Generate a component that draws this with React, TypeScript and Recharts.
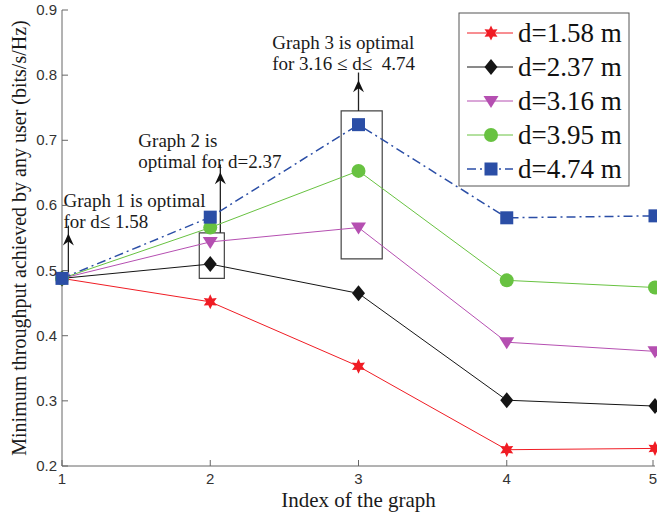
import React from 'react';
import { LineChart, Line, XAxis, YAxis, ReferenceArea, ReferenceLine, ReferenceDot } from 'recharts';

// graph index on the x axis
const graphIndex = [1, 2, 3, 4, 5];

// minimum throughput per distance (bits/s/Hz)
const d158 = [0.488, 0.452, 0.353, 0.225, 0.227];
const d237 = [0.488, 0.51, 0.465, 0.301, 0.292];
const d316 = [0.488, 0.544, 0.566, 0.39, 0.376];
const d395 = [0.488, 0.566, 0.653, 0.485, 0.474];
const d474 = [0.488, 0.582, 0.724, 0.581, 0.584];

const seriesNames = ['d=1.58 m', 'd=2.37 m', 'd=3.16 m', 'd=3.95 m', 'd=4.74 m'];
const seriesColors = ['#f01c24', '#151515', '#b54fb1', '#68c241', '#2b4ea6'];
const seriesMarkers = ['star', 'diamond', 'triangle', 'circle', 'square'];

const yTicks = [0.2, 0.3, 0.4, 0.5, 0.6, 0.7, 0.8, 0.9];

const data = graphIndex.map((g, i) => ({
  g,
  s0: d158[i],
  s1: d237[i],
  s2: d316[i],
  s3: d395[i],
  s4: d474[i],
}));

// annotation boxes, arrows and notes (chart coordinates)
const boxes = [
  { x1: 1.926, x2: 2.095, y1: 0.488, y2: 0.558 },
  { x1: 2.883, x2: 3.16, y1: 0.518, y2: 0.745 },
];
const arrows = [
  { x: 1.043, from: 0.497, to: 0.557 },
  { x: 2.068, from: 0.558, to: 0.651 },
  { x: 3.0, from: 0.745, to: 0.792 },
];
const notes = [
  { x: 1.01, y: 0.597, lines: ['Graph 1 is optimal', 'for d\u2264 1.58'] },
  { x: 1.515, y: 0.689, lines: ['Graph 2 is', 'optimal for d=2.37'] },
  { x: 2.418, y: 0.84, lines: ['Graph 3 is optimal', 'for 3.16 \u2264 d\u2264  4.74'] },
];

const AXIS = '#666';
const SERIF = '"Liberation Serif", "Times New Roman", serif';
const SANS = '"Liberation Sans", Arial, sans-serif';

function Marker({ kind, cx, cy, color }: { kind: string; cx: number; cy: number; color: string }) {
  if (kind === 'star') {
    const pts: string[] = [];
    for (let k = 0; k < 12; k++) {
      const a = ((-90 + k * 30) * Math.PI) / 180;
      const r = k % 2 === 0 ? 7.5 : 3.9;
      pts.push(`${cx + r * Math.cos(a)},${cy + r * Math.sin(a)}`);
    }
    return <polygon points={pts.join(' ')} fill={color} />;
  }
  if (kind === 'diamond') {
    return <polygon points={`${cx},${cy - 8} ${cx + 6.5},${cy} ${cx},${cy + 8} ${cx - 6.5},${cy}`} fill={color} />;
  }
  if (kind === 'triangle') {
    return <polygon points={`${cx - 7.5},${cy - 5} ${cx + 7.5},${cy - 5} ${cx},${cy + 7}`} fill={color} />;
  }
  if (kind === 'circle') {
    return <circle cx={cx} cy={cy} r={7} fill={color} />;
  }
  return <rect x={cx - 6.5} y={cy - 6.5} width={13} height={13} fill={color} />;
}

const makeDot = (kind: string, color: string) => (props: any) => (
  <g key={`${kind}-${props.index}`}>
    <Marker kind={kind} cx={props.cx} cy={props.cy} color={color} />
  </g>
);

const LeftTick = ({ x, y, payload }: any) => (
  <g>
    <line x1={x + 4} x2={x + 10} y1={y} y2={y} stroke={AXIS} />
    <text x={x - 1} y={y + 5} textAnchor="end" fontSize={15} fontFamily={SANS} fill="#333">
      {payload.value}
    </text>
  </g>
);

const BottomTick = ({ x, y, payload }: any) => (
  <g>
    <line x1={x} x2={x} y1={y} y2={y - 6} stroke={AXIS} />
    <text x={x} y={y + 18} textAnchor="middle" fontSize={15} fontFamily={SANS} fill="#333">
      {payload.value}
    </text>
  </g>
);

const RightTick = ({ x, y }: any) => <line x1={x - 6} x2={x} y1={y} y2={y} stroke={AXIS} />;
const TopTick = ({ x, y }: any) => <line x1={x} x2={x} y1={y} y2={y + 6} stroke={AXIS} />;

const arrowHead = (props: any) => {
  const { cx, cy } = props;
  return (
    <polygon
      points={`${cx},${cy} ${cx + 5.5},${cy + 12} ${cx},${cy + 8} ${cx - 5.5},${cy + 12}`}
      fill="#111"
    />
  );
};

const noteShape = (lines: string[]) => (props: any) => (
  <text x={props.cx} y={props.cy} fontSize={19} fontFamily={SERIF} fill="#1a1a1a">
    {lines.map((t, i) => (
      <tspan key={i} x={props.cx} dy={i === 0 ? 0 : 21} style={{ whiteSpace: 'pre' }}>
        {t}
      </tspan>
    ))}
  </text>
);

function LegendBox() {
  return (
    <svg
      width={172}
      height={175}
      style={{ position: 'absolute', left: 458, top: 12, pointerEvents: 'none' }}
    >
      <rect x={1} y={1} width={170} height={173} fill="#fff" stroke="#555" />
      {seriesNames.map((name, i) => {
        const cy = 21 + i * 34;
        return (
          <g key={name}>
            <line
              x1={9}
              x2={55}
              y1={cy}
              y2={cy}
              stroke={seriesColors[i]}
              strokeWidth={i === 4 ? 1.5 : 1}
              strokeDasharray={i === 4 ? '9 4 2 4' : undefined}
            />
            <Marker kind={seriesMarkers[i]} cx={33} cy={cy} color={seriesColors[i]} />
            <text x={60} y={cy + 9} fontSize={27} fontFamily={SERIF} fill="#111">
              {name}
            </text>
          </g>
        );
      })}
    </svg>
  );
}

export default function App() {
  const keys = ['s0', 's1', 's2', 's3', 's4'];
  return (
    <div style={{ position: 'absolute', left: 0, top: 0, width: 657, height: 512, background: '#fff' }}>
      <LineChart width={657} height={512} data={data} margin={{ top: 10, right: 2, bottom: 0, left: 0 }}>
        <XAxis
          dataKey="g"
          type="number"
          domain={[1, 5]}
          ticks={graphIndex}
          stroke={AXIS}
          tickLine={false}
          tickSize={0}
          tickMargin={0}
          tick={<BottomTick />}
          height={46}
          label={{
            content: ({ viewBox }: any) => (
              <text
                x={viewBox.x + viewBox.width / 2}
                y={viewBox.y + 41}
                textAnchor="middle"
                fontSize={21}
                fontFamily={SERIF}
                fill="#1a1a1a"
              >
                Index of the graph
              </text>
            ),
          }}
        />
        <XAxis
          xAxisId="t"
          dataKey="g"
          type="number"
          orientation="top"
          domain={[1, 5]}
          ticks={graphIndex}
          stroke={AXIS}
          tickLine={false}
          tickSize={0}
          tickMargin={0}
          tick={<TopTick />}
          height={0}
        />
        <YAxis
          type="number"
          domain={[0.2, 0.9]}
          ticks={yTicks}
          stroke={AXIS}
          tickLine={false}
          tickSize={0}
          tickMargin={4}
          tick={<LeftTick />}
          width={62}
          label={{
            content: ({ viewBox }: any) => {
              const cy = viewBox.y + viewBox.height / 2;
              return (
                <text
                  x={21}
                  y={cy}
                  transform={`rotate(-90, 21, ${cy})`}
                  textAnchor="middle"
                  dominantBaseline="middle"
                  fontSize={20}
                  fontFamily={SERIF}
                  fill="#1a1a1a"
                >
                  Minimum throughput achieved by any user (bits/s/Hz)
                </text>
              );
            },
          }}
        />
        <YAxis
          yAxisId="r"
          orientation="right"
          type="number"
          domain={[0.2, 0.9]}
          ticks={yTicks}
          stroke={AXIS}
          tickLine={false}
          tickSize={0}
          tickMargin={0}
          tick={<RightTick />}
          width={0}
        />
        {boxes.map((b, i) => (
          <ReferenceArea
            key={`box${i}`}
            x1={b.x1}
            x2={b.x2}
            y1={b.y1}
            y2={b.y2}
            fill="none"
            fillOpacity={0}
            stroke="#444"
            strokeWidth={1.2}
            ifOverflow="visible"
          />
        ))}
        {arrows.map((a, i) => (
          <ReferenceLine
            key={`shaft${i}`}
            segment={[
              { x: a.x, y: a.from },
              { x: a.x, y: a.to + 0.012 },
            ]}
            stroke="#222"
            strokeWidth={1.3}
            ifOverflow="visible"
          />
        ))}
        {arrows.map((a, i) => (
          <ReferenceDot key={`head${i}`} x={a.x} y={a.to} shape={arrowHead} ifOverflow="visible" />
        ))}
        {notes.map((n, i) => (
          <ReferenceDot key={`note${i}`} x={n.x} y={n.y} shape={noteShape(n.lines)} ifOverflow="visible" />
        ))}
        {keys.map((k, i) => (
          <Line
            key={k}
            dataKey={k}
            name={seriesNames[i]}
            stroke={seriesColors[i]}
            strokeWidth={i === 4 ? 1.5 : 1}
            strokeDasharray={i === 4 ? '9 4 2 4' : undefined}
            dot={makeDot(seriesMarkers[i], seriesColors[i])}
            activeDot={false}
            isAnimationActive={false}
          />
        ))}
      </LineChart>
      <LegendBox />
    </div>
  );
}
